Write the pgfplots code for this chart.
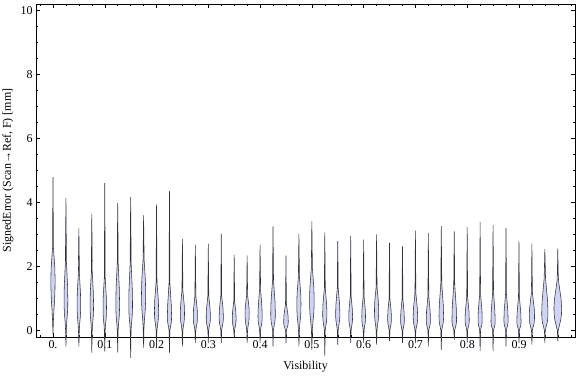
\documentclass[border=0pt]{standalone}
\usepackage{fontspec}
\setmainfont{Liberation Serif}
\usepackage{pgfplots}
\usepackage{pgfplotstable}
\pgfplotsset{compat=1.18}
\definecolor{vfill}{RGB}{206,212,245}
\definecolor{vedge}{RGB}{50,50,60}
% violin parameters:
% idx, lowest value, bulge start, bulge centre, bulge end, highest value, bulge half-width (px)
\pgfplotstableread{
i ymin lo yc hi ymax hw
0 -0.10 0.30 1.65 2.90 4.80 3.0
1 -0.50 0.05 1.00 2.60 4.14 2.7
2 -0.50 0.00 0.85 2.20 3.19 2.6
3 -0.70 0.00 0.85 2.20 3.65 2.5
4 -0.65 0.00 0.75 2.00 4.61 2.5
5 -0.68 0.00 0.85 2.60 3.98 2.7
6 -0.85 0.00 0.85 2.60 4.17 2.7
7 -0.53 0.10 1.20 2.60 3.60 3.0
8 -0.53 0.00 0.65 1.80 3.94 3.0
9 -0.69 0.00 0.45 1.80 4.35 3.0
10 -0.49 0.00 0.55 1.50 2.86 3.0
11 -0.39 0.00 0.45 1.30 2.68 3.0
12 -0.39 0.00 0.45 1.30 2.71 3.0
13 -0.39 0.00 0.45 1.30 3.02 3.0
14 -0.23 0.00 0.40 1.10 2.37 2.7
15 -0.39 0.00 0.55 1.30 2.34 3.0
16 -0.39 0.00 0.45 1.60 2.68 3.0
17 -0.49 0.00 0.55 1.90 3.26 3.3
18 -0.39 0.00 0.30 1.00 2.34 3.3
19 -0.49 0.00 0.86 2.00 3.02 3.0
20 -0.60 0.00 1.00 2.30 3.41 3.3
21 -0.80 0.00 0.55 1.60 3.06 3.0
22 -0.44 0.00 0.55 1.60 2.80 3.0
23 -0.39 0.00 0.45 1.30 2.96 2.7
24 -0.39 0.00 0.45 1.30 2.84 2.7
25 -0.44 0.00 0.66 1.60 3.00 3.0
26 -0.33 0.00 0.40 1.20 2.74 2.7
27 -0.39 0.00 0.35 1.20 2.63 2.7
28 -0.39 0.00 0.45 1.40 3.12 3.2
29 -0.49 0.00 0.35 1.30 3.05 3.0
30 -0.60 0.00 0.45 1.80 3.26 3.3
31 -0.28 0.00 0.35 1.80 3.09 3.3
32 -0.39 0.00 0.35 1.30 3.23 3.0
33 -0.64 0.00 0.35 1.40 3.39 3.0
34 -0.64 0.00 0.30 1.50 3.30 3.0
35 -0.49 0.00 0.35 1.40 3.20 3.0
36 -0.39 0.00 0.30 1.30 2.79 3.0
37 -0.44 0.00 0.45 1.40 2.71 3.8
38 -0.39 0.00 0.55 2.00 2.55 4.5
39 -0.33 0.00 0.70 1.80 2.56 5.5
}\vdata
% px -> data units in x, times 0.7 to allow for the outline width
\def\pxu{0.00135}
\def\tpx{0.0008}
\begin{document}
\begin{tikzpicture}
\begin{axis}[
  scale only axis, width=539bp, height=333bp,
  xmin=-0.0328, xmax=1.008, ymin=-0.2, ymax=10.21,
  clip=false,
  axis line style={black, line width=0.6pt},
  xtick={0,0.1,0.2,0.3,0.4,0.5,0.6,0.7,0.8,0.9},
  xticklabels={0.,0.1,0.2,0.3,0.4,0.5,0.6,0.7,0.8,0.9},
  minor xtick={-0.025,0,...,1.0},
  ytick={0,2,4,6,8,10},
  minor y tick num=3,
  tick align=inside,
  major tick length=4bp, minor tick length=2.5bp,
  tick style={black, line width=0.5pt},
  /pgf/number format/assume math mode=true,
  tick label style={font=\fontsize{12}{14}\selectfont, black},
  label style={font=\fontsize{12}{14}\selectfont, black},
  xlabel={Visibility},
  ylabel={SignedError (Scan→Ref, F) [mm]},
  xlabel style={at={(axis description cs:0.5,0)}, anchor=center, yshift=-30bp},
  ylabel style={at={(axis description cs:0,0.5)}, anchor=center, yshift=28bp},
  violin/.style={fill=vfill, draw=vedge, line width=0.55pt, line join=round},
]
\pgfplotsinvokeforeach{0,...,39}{%
  \pgfplotstablegetelem{#1}{ymin}\of\vdata \let\ya\pgfplotsretval
  \pgfplotstablegetelem{#1}{lo}\of\vdata \let\yb\pgfplotsretval
  \pgfplotstablegetelem{#1}{yc}\of\vdata \let\yc\pgfplotsretval
  \pgfplotstablegetelem{#1}{hi}\of\vdata \let\yd\pgfplotsretval
  \pgfplotstablegetelem{#1}{ymax}\of\vdata \let\ye\pgfplotsretval
  \pgfplotstablegetelem{#1}{hw}\of\vdata \let\hw\pgfplotsretval
  \pgfmathsetmacro\cx{#1*0.025}
  \pgfmathsetmacro\W{\hw*\pxu}
  \pgfmathsetmacro\T{\tpx}
  \pgfmathsetmacro\yi{\yb+0.25*(\yc-\yb)}
  \pgfmathsetmacro\yii{\yb+0.5*(\yc-\yb)}
  \pgfmathsetmacro\yiii{\yb+0.75*(\yc-\yb)}
  \pgfmathsetmacro\yv{\yc+0.25*(\yd-\yc)}
  \pgfmathsetmacro\yvi{\yc+0.5*(\yd-\yc)}
  \pgfmathsetmacro\yvii{\yc+0.75*(\yd-\yc)}
  \pgfmathsetmacro\rT{\cx+\T}\pgfmathsetmacro\lT{\cx-\T}
  \pgfmathsetmacro\ra{\cx+0.45*\W}\pgfmathsetmacro\la{\cx-0.45*\W}
  \pgfmathsetmacro\rb{\cx+0.8*\W}\pgfmathsetmacro\lb{\cx-0.8*\W}
  \pgfmathsetmacro\rc{\cx+0.97*\W}\pgfmathsetmacro\lc{\cx-0.97*\W}
  \pgfmathsetmacro\rd{\cx+\W}\pgfmathsetmacro\ld{\cx-\W}
  \pgfmathsetmacro\re{\cx+0.88*\W}\pgfmathsetmacro\le{\cx-0.88*\W}
  \pgfmathsetmacro\rf{\cx+0.55*\W}\pgfmathsetmacro\lf{\cx-0.55*\W}
  \pgfmathsetmacro\rg{\cx+0.22*\W}\pgfmathsetmacro\lg{\cx-0.22*\W}
  \edef\doviolin{\noexpand\addplot[violin] coordinates {
    (\cx,\ya) (\rT,\yb) (\ra,\yi) (\rb,\yii) (\rc,\yiii) (\rd,\yc)
    (\re,\yv) (\rf,\yvi) (\rg,\yvii) (\rT,\yd) (\cx,\ye)
    (\lT,\yd) (\lg,\yvii) (\lf,\yvi) (\le,\yv) (\ld,\yc)
    (\lc,\yiii) (\lb,\yii) (\la,\yi) (\lT,\yb) (\cx,\ya)};}%
  \doviolin
}
\coordinate (sw) at (rel axis cs:0,0);
\coordinate (ne) at (rel axis cs:1,1);
\end{axis}
\pgfresetboundingbox
\path[use as bounding box] ([xshift=-36bp,yshift=-40bp]sw) rectangle ([xshift=1bp,yshift=4bp]ne);
\end{tikzpicture}
\end{document}
